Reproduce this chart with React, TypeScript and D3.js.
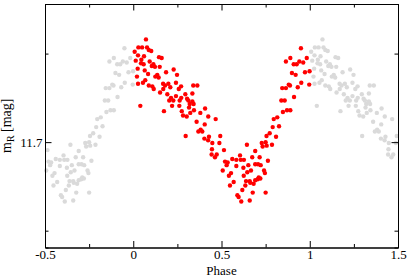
import { useEffect, useRef } from 'react';
import * as d3 from 'd3';

// observed points, phase 0..1 (red); grey copies are the same points shifted by one cycle
const phase = [
  0.072, 0.029, 0.05, 0.078, 0.008, 0.088, 0.102, 0.027, 0.061, 0.146,
  0.161, 0.046, 0.014, 0.093, 0.059, 0.044, 0.114, 0.105, 0.123, 0.15,
  0.025, 0.229, 0.065, 0.186, 0.084, 0.136, 0.125, 0.144, 0.248, 0.021,
  0.068, 0.055, 0.027, 0.169, 0.18, 0.199, 0.242, 0.088, 0.108, 0.116,
  0.271, 0.34, 0.363, 0.17, 0.21, 0.258, 0.152, 0.193, 0.295, 0.305,
  0.335, 0.214, 0.242, 0.227, 0.204, 0.263, 0.272, 0.312, 0.32, 0.335,
  0.342, 0.22, 0.261, 0.04, 0.316, 0.174, 0.275, 0.344, 0.38, 0.282,
  0.303, 0.323, 0.407, 0.425, 0.467, 0.359, 0.405, 0.382, 0.391, 0.369,
  0.297, 0.403, 0.429, 0.424, 0.493, 0.448, 0.446, 0.444, 0.488, 0.514,
  0.644, 0.728, 0.75, 0.733, 0.786, 0.691, 0.674, 0.716, 0.605, 0.627,
  0.584, 0.609, 0.473, 0.463, 0.561, 0.52, 0.535, 0.529, 0.507, 0.584,
  0.652, 0.691, 0.707, 0.722, 0.763, 0.624, 0.646, 0.741, 0.746, 0.626,
  0.667, 0.554, 0.542, 0.711, 0.705, 0.691, 0.72, 0.639, 0.66, 0.682,
  0.569, 0.663, 0.548, 0.635, 0.618, 0.677, 0.75, 0.59, 0.597, 0.612,
  0.66, 0.95, 0.89, 0.865, 0.909, 0.926, 0.941, 0.963, 0.983, 0.899,
  0.92, 0.973, 0.999, 0.952, 0.932, 0.881, 0.865, 0.888, 0.844, 0.911,
  0.839, 0.858, 0.848, 0.871, 0.89, 0.816, 0.796, 0.826, 0.79, 0.773,
  0.755, 0.809, 0.756, 0.997,
];

const magR = [
  11.584, 11.593, 11.593, 11.593, 11.598, 11.596, 11.597, 11.602, 11.603, 11.604,
  11.605, 11.607, 11.608, 11.609, 11.612, 11.611, 11.612, 11.614, 11.615, 11.615,
  11.617, 11.618, 11.619, 11.621, 11.623, 11.624, 11.626, 11.627, 11.624, 11.626,
  11.63, 11.633, 11.634, 11.634, 11.636, 11.634, 11.633, 11.636, 11.637, 11.64,
  11.637, 11.636, 11.636, 11.64, 11.638, 11.64, 11.644, 11.646, 11.646, 11.651,
  11.645, 11.65, 11.648, 11.653, 11.653, 11.653, 11.65, 11.653, 11.657, 11.654,
  11.657, 11.659, 11.659, 11.659, 11.661, 11.665, 11.665, 11.664, 11.667, 11.67,
  11.671, 11.667, 11.662, 11.671, 11.674, 11.677, 11.68, 11.686, 11.688, 11.688,
  11.693, 11.696, 11.694, 11.698, 11.693, 11.701, 11.708, 11.714, 11.701, 11.709,
  11.703, 11.701, 11.7, 11.705, 11.703, 11.71, 11.717, 11.717, 11.715, 11.72,
  11.72, 11.72, 11.714, 11.717, 11.719, 11.722, 11.723, 11.726, 11.732, 11.727,
  11.726, 11.725, 11.725, 11.726, 11.721, 11.729, 11.734, 11.732, 11.735, 11.738,
  11.732, 11.735, 11.738, 11.74, 11.742, 11.743, 11.741, 11.744, 11.744, 11.747,
  11.745, 11.746, 11.749, 11.749, 11.754, 11.757, 11.757, 11.76, 11.762, 11.767,
  11.766, 11.594, 11.605, 11.609, 11.612, 11.612, 11.609, 11.61, 11.605, 11.622,
  11.624, 11.621, 11.62, 11.633, 11.638, 11.635, 11.639, 11.636, 11.639, 11.649,
  11.653, 11.653, 11.666, 11.664, 11.664, 11.672, 11.674, 11.682, 11.683, 11.69,
  11.693, 11.694, 11.704, 11.635,
];

const xMajor = [-0.5, 0, 0.5, 1, 1.5];
const xMinor = [-0.25, 0.25, 0.75, 1.25];
const yMajor = [11.7];
const yMinor = [11.6, 11.8];

interface Pt {
  p: number;
  m: number;
}

const FONT = '"Liberation Serif", "Times New Roman", serif';

export default function App() {
  const svgRef = useRef<SVGSVGElement>(null);

  useEffect(() => {
    if (!svgRef.current) return;
    const svg = d3.select(svgRef.current);
    svg.selectAll('*').remove();

    const width = 407;
    const height = 276;
    const margin = { top: 4, right: 9, bottom: 28.5, left: 45 };
    const innerW = width - margin.left - margin.right;
    const innerH = height - margin.top - margin.bottom;

    const g = svg.append('g').attr('transform', `translate(${margin.left},${margin.top})`);

    const x = d3.scaleLinear().domain([-0.5, 1.5]).range([0, innerW]);
    // magnitudes: brighter (smaller) at the top
    const y = d3.scaleLinear().domain([11.544, 11.819]).range([0, innerH]);

    const red: Pt[] = phase.map((p, i) => ({ p, m: magR[i] }));
    const grey: Pt[] = red.map((d) => ({ p: d.p >= 0.5 ? d.p - 1 : d.p + 1, m: d.m }));

    g.append('g')
      .selectAll('circle')
      .data(grey)
      .enter()
      .append('circle')
      .attr('cx', (d) => x(d.p))
      .attr('cy', (d) => y(d.m))
      .attr('r', 2.2)
      .attr('fill', '#dadada');

    g.append('g')
      .selectAll('circle')
      .data(red)
      .enter()
      .append('circle')
      .attr('cx', (d) => x(d.p))
      .attr('cy', (d) => y(d.m))
      .attr('r', 2.2)
      .attr('fill', '#ff0000');

    const styleAxis = (sel: d3.Selection<SVGGElement, unknown, null, undefined>) => {
      sel.attr('font-family', FONT).attr('font-size', 13);
      sel.selectAll('.domain, .tick line').attr('stroke', '#000');
      sel.selectAll('text').attr('fill', '#000');
    };

    const major = 6.5;
    const minor = 3.5;

    // bottom
    g.append('g')
      .attr('transform', `translate(0,${innerH})`)
      .call(
        d3.axisBottom(x).tickValues(xMajor).tickSizeInner(-major).tickSizeOuter(0).tickPadding(2.5)
          .tickFormat((d) => String(d)),
      )
      .call(styleAxis);
    g.append('g')
      .attr('transform', `translate(0,${innerH})`)
      .call(d3.axisBottom(x).tickValues(xMinor).tickSize(-minor).tickFormat(() => ''))
      .call(styleAxis);

    // top
    g.append('g')
      .call(d3.axisTop(x).tickValues(xMajor).tickSizeInner(-major).tickSizeOuter(0).tickFormat(() => ''))
      .call(styleAxis);
    g.append('g')
      .call(d3.axisTop(x).tickValues(xMinor).tickSize(-minor).tickFormat(() => ''))
      .call(styleAxis);

    // left
    g.append('g')
      .call(
        d3.axisLeft(y).tickValues(yMajor).tickSizeInner(-major).tickSizeOuter(0).tickPadding(2.5)
          .tickFormat(d3.format('.1f')),
      )
      .call(styleAxis);
    g.append('g')
      .call(d3.axisLeft(y).tickValues(yMinor).tickSize(-minor).tickFormat(() => ''))
      .call(styleAxis);

    // right
    g.append('g')
      .attr('transform', `translate(${innerW},0)`)
      .call(d3.axisRight(y).tickValues(yMajor).tickSizeInner(-major).tickSizeOuter(0).tickFormat(() => ''))
      .call(styleAxis);
    g.append('g')
      .attr('transform', `translate(${innerW},0)`)
      .call(d3.axisRight(y).tickValues(yMinor).tickSize(-minor).tickFormat(() => ''))
      .call(styleAxis);

    g.append('text')
      .attr('x', innerW / 2)
      .attr('y', 270.5)
      .attr('text-anchor', 'middle')
      .attr('font-family', FONT)
      .attr('font-size', 13)
      .attr('fill', '#000')
      .text('Phase');

    const yl = svg
      .append('text')
      .attr('transform', `translate(11,${margin.top + innerH / 2}) rotate(-90)`)
      .attr('text-anchor', 'middle')
      .attr('font-family', FONT)
      .attr('font-size', 14)
      .attr('fill', '#000');
    yl.append('tspan').text('m');
    yl.append('tspan').attr('dy', 3).attr('font-size', 10).text('R');
    yl.append('tspan').attr('dy', -3).text(' [mag]');
  }, []);

  return (
    <svg
      ref={svgRef}
      width={407}
      height={276}
      style={{ position: 'fixed', left: 0, top: 0, background: '#fff' }}
    />
  );
}
